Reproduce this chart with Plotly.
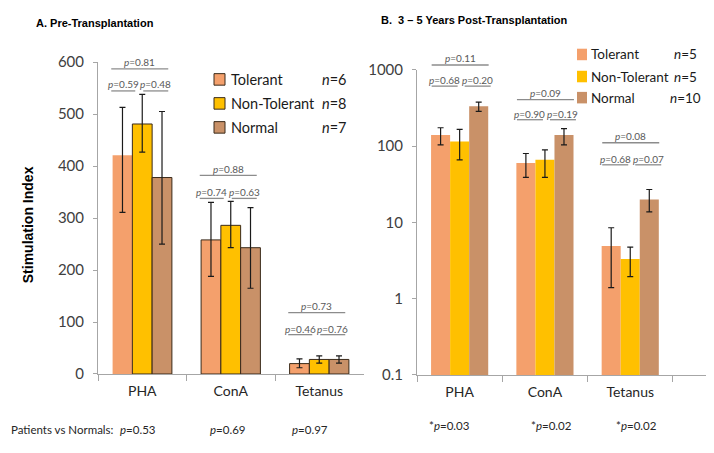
import plotly.graph_objects as go

# The page places the figure 8px from the window's top-left corner
OFF = 8
W, H = 714 - OFF, 453 - OFF

categories = ["PHA", "ConA", "Tetanus"]
groups = ["Tolerant", "Non-Tolerant", "Normal"]
colors = ["#F4A06C", "#FFC000", "#C99168"]

# Panel A: Pre-Transplantation
pre_tolerant = [421, 258, 20]
pre_tolerant_plus = [92, 72, 9]
pre_tolerant_minus = [110, 70, 8]
pre_nontol = [481, 286, 28]
pre_nontol_plus = [57, 46, 7]
pre_nontol_minus = [54, 43, 7]
pre_normal = [378, 243, 28]
pre_normal_plus = [127, 77, 7]
pre_normal_minus = [128, 78, 7]
pre_n = [6, 8, 7]
pre_p_top = ["0.81", "0.88", "0.73"]
pre_p_left = ["0.59", "0.74", "0.46"]
pre_p_right = ["0.48", "0.63", "0.76"]
pre_p_patients = ["0.53", "0.69", "0.97"]

# Panel B: 3-5 Years Post-Transplantation
post_tolerant = [140, 60, 4.9]
post_tolerant_plus = [34, 20, 3.6]
post_tolerant_minus = [36, 21, 3.5]
post_nontol = [115, 66, 3.3]
post_nontol_plus = [51, 23, 1.45]
post_nontol_minus = [49, 27, 1.35]
post_normal = [333, 140, 20]
post_normal_plus = [44, 29, 7]
post_normal_minus = [48, 36, 6.3]
post_n = [5, 5, 10]
post_p_top = ["0.11", "0.09", "0.08"]
post_p_left = ["0.68", "0.90", "0.68"]
post_p_right = ["0.20", "0.19", "0.07"]
post_p_patients = ["0.03", "0.02", "0.02"]


def px(x):
    return (x - OFF) / W


def py(y):
    return 1 - (y - OFF) / H


TICK_FONT = dict(family="Lato, Noto Sans, sans-serif", size=15, color="#404040")
CAT_FONT = dict(family="Lato, Noto Sans, sans-serif", size=14, color="#262626")
P_FONT = dict(family="Lato, Noto Sans, sans-serif", size=10, color="#595959")
AX_COLOR = "#A6A6A6"

# axis geometry in window pixels
A_X0, A_X1, A_Y0, A_Y1 = 98, 363.5, 54, 379
B_X0, B_X1, B_Y0, B_Y1 = 417, 707, 62, 380
B_RANGE = [-0.5, 2.9]

fig = go.Figure()

pre_series = [
    (pre_tolerant, pre_tolerant_plus, pre_tolerant_minus),
    (pre_nontol, pre_nontol_plus, pre_nontol_minus),
    (pre_normal, pre_normal_plus, pre_normal_minus),
]
post_series = [
    (post_tolerant, post_tolerant_plus, post_tolerant_minus),
    (post_nontol, post_nontol_plus, post_nontol_minus),
    (post_normal, post_normal_plus, post_normal_minus),
]

for i, (vals, ep, em) in enumerate(pre_series):
    lw = [0, 1, 1] if i == 0 else [1, 1, 1]
    fig.add_trace(go.Bar(
        x=categories, y=vals, name=groups[i], xaxis="x", yaxis="y",
        marker=dict(color=colors[i], line=dict(color="#3a2a1a", width=lw)),
        error_y=dict(type="data", array=ep, arrayminus=em, symmetric=False,
                     color="#1a1a1a", thickness=1.2, width=3),
        showlegend=False,
    ))

for i, (vals, ep, em) in enumerate(post_series):
    fig.add_trace(go.Bar(
        x=categories, y=vals, name=groups[i], xaxis="x2", yaxis="y2",
        marker=dict(color=colors[i], line=dict(width=0)),
        error_y=dict(type="data", array=ep, arrayminus=em, symmetric=False,
                     color="#1a1a1a", thickness=1.2, width=3),
        showlegend=False,
    ))

common_x = dict(type="category", showline=True, linecolor=AX_COLOR, linewidth=1,
                ticks="outside", tickson="boundaries", ticklen=6, tickcolor=AX_COLOR,
                showgrid=False, zeroline=False, tickfont=CAT_FONT, ticklabelstandoff=4)
common_y = dict(showline=True, linecolor=AX_COLOR, linewidth=1, ticks="outside",
                ticklen=4, tickcolor=AX_COLOR, showgrid=False, zeroline=False,
                tickfont=TICK_FONT, ticklabelstandoff=6)

fig.update_layout(
    width=W, height=H, margin=dict(l=0, r=0, t=0, b=0),
    paper_bgcolor="white", plot_bgcolor="white",
    barmode="group", bargap=0.33, bargroupgap=0,
    xaxis=dict(domain=[px(A_X0), px(A_X1)], anchor="y", range=[-0.5, 2.5], **common_x),
    yaxis=dict(domain=[py(A_Y1), py(A_Y0)], anchor="x", range=[0, 600],
               tickvals=[0, 100, 200, 300, 400, 500, 600], **common_y),
    xaxis2=dict(domain=[px(B_X0), px(B_X1)], anchor="y2", range=B_RANGE, **common_x),
    yaxis2=dict(domain=[py(B_Y1), py(B_Y0)], anchor="x2", type="log", range=[-1, 3],
                tickvals=[0.1, 1, 10, 100, 1000], ticktext=["0.1", "1", "10", "100", "1000"],
                **common_y),
)

ann = []
shapes = []


def text(x, y, s, font, xanchor="center", **kw):
    ann.append(dict(x=px(x), y=py(y), xref="paper", yref="paper", text=s, showarrow=False,
                    font=font, xanchor=xanchor, yanchor="middle", **kw))


def hline(x0, x1, y, color="#8C8C8C", width=1.3):
    shapes.append(dict(type="line", xref="paper", yref="paper", x0=px(x0), x1=px(x1),
                       y0=py(y), y1=py(y), line=dict(color=color, width=width)))


# titles
TITLE_FONT = dict(family="Liberation Sans, Arial, sans-serif", size=11, color="#000000")
text(34, 13, "<b>A. Pre-Transplantation</b>", TITLE_FONT, xanchor="left")
text(379, 10, "<b>B.  3 \u2013 5 Years Post-Transplantation</b>", TITLE_FONT, xanchor="left")
text(28, 224, "<b>Stimulation Index</b>",
     dict(family="Liberation Sans, Arial, sans-serif", size=14, color="#000000"), textangle=-90)


# p-value brackets
def brackets(x0, x1, rng, tops, lefts, rights, levels, offs):
    lo, hi = rng
    step = (x1 - x0) / (hi - lo)
    for k in range(len(categories)):
        c = x0 + (k - lo) * step
        t_txt, t_line, s_txt, s_line = levels[k]
        a, b, l0, l1, r0, r1 = offs
        text((c + a + c + b) / 2, t_txt, "<i>p</i>=" + tops[k], P_FONT)
        hline(c + a, c + b, t_line)
        text((c + l0 + c + l1) / 2, s_txt, "<i>p</i>=" + lefts[k], P_FONT)
        hline(c + l0, c + l1, s_line)
        text((c + r0 + c + r1) / 2, s_txt, "<i>p</i>=" + rights[k], P_FONT)
        hline(c + r0, c + r1, s_line)


brackets(A_X0, A_X1, [-0.5, 2.5], pre_p_top, pre_p_left, pre_p_right,
         [(54, 61, 77, 84), (165, 172, 189, 196), (308, 315, 332, 338)],
         (-31, 26, -31, -7, 1, 26))
brackets(B_X0, B_X1, B_RANGE, post_p_top, post_p_left, post_p_right,
         [(50, 57, 73, 79), (86, 93, 108, 114), (131, 138, 155, 161)],
         (-28, 29, -28, -2, 5, 31))

# legends
LEG_A = dict(family="Lato, Noto Sans, sans-serif", size=14.5, color="#1a1a1a")
LEG_B = dict(family="Lato, Noto Sans, sans-serif", size=13.5, color="#1a1a1a")
for i, g in enumerate(groups):
    y = [72, 97, 122][i]
    shapes.append(dict(type="rect", xref="paper", yref="paper", x0=px(214), x1=px(225),
                       y0=py(y + 6), y1=py(y - 6), fillcolor=colors[i],
                       line=dict(color="#3a2a1a", width=1)))
    text(229, y, g, LEG_A, xanchor="left")
    text(334, y, "<i>n</i>=" + str(pre_n[i]), LEG_A)
for i, g in enumerate(groups):
    y = [46, 69, 91][i]
    shapes.append(dict(type="rect", xref="paper", yref="paper", x0=px(577), x1=px(587),
                       y0=py(y + 6), y1=py(y - 6), fillcolor=colors[i], line=dict(width=0)))
    text(589, y, g, LEG_B, xanchor="left")
    text(685, y, "<i>n</i>=" + str(post_n[i]), LEG_B)

# bottom p-values
BOT_FONT = dict(family="Lato, Noto Sans, sans-serif", size=11.5, color="#262626")
text(9, 437, "Patients vs Normals:", BOT_FONT, xanchor="left")
for k, xc in enumerate([138, 227, 310]):
    text(xc, 437, "<i>p</i>=" + pre_p_patients[k], BOT_FONT)
for k, xc in enumerate([450, 551, 636]):
    text(xc, 433, "*<i>p</i>=" + post_p_patients[k], BOT_FONT)

fig.update_layout(annotations=ann, shapes=shapes)
fig.write_html("out.html")
